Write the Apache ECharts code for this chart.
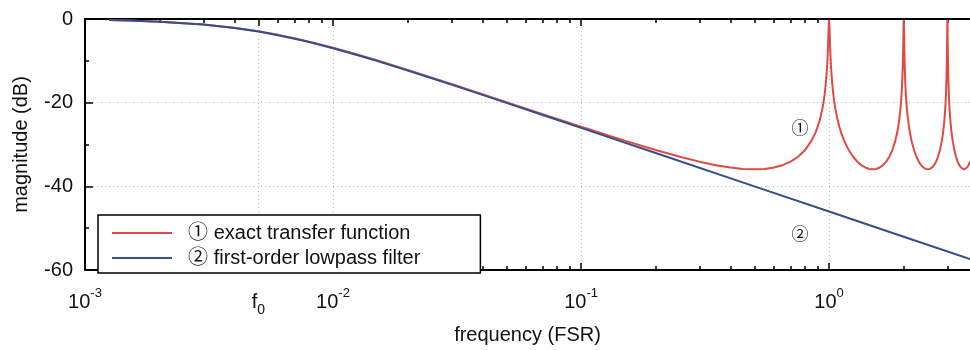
<!DOCTYPE html>
<html>
<head>
<meta charset="utf-8">
<script src="https://cdn.jsdelivr.net/npm/echarts@6/dist/echarts.min.js"></script>
<style>
  html, body { margin: 0; padding: 0; background: #fff; }
  #chart { width: 970px; height: 350px; }
</style>
</head>
<body>
<div id="chart"></div>
<script>
// frequency in FSR, magnitude in dB
const blueFreq = [0.00125, 0.0015, 0.002, 0.003, 0.004, 0.005, 0.006, 0.007, 0.008, 0.01, 0.012, 0.015,
  0.02, 0.03, 0.04, 0.05, 0.07, 0.1, 0.2, 0.5, 1, 2, 3.7];
const blueDb = [-0.26, -0.37, -0.65, -1.34, -2.15, -3.01, -3.87, -4.71, -5.51, -6.99, -8.30, -10.0,
  -12.30, -15.68, -18.13, -20.04, -22.94, -26.03, -32.04, -40.0, -46.02, -52.04, -57.39];

const redFreq = [0.00125, 0.0015, 0.002, 0.003, 0.004, 0.005, 0.006, 0.007, 0.008, 0.01, 0.012, 0.015,
  0.02, 0.03, 0.04, 0.05, 0.07, 0.1, 0.15, 0.2, 0.25, 0.3, 0.35, 0.4, 0.45, 0.5,
  0.55, 0.6, 0.65, 0.7, 0.75, 0.8, 0.85, 0.88, 0.9, 0.92, 0.94, 0.95, 0.96, 0.97, 0.98, 0.985, 0.99, 0.993, 0.995, 0.997, 0.999,
  1.0, 1.001, 1.003, 1.005, 1.007, 1.01, 1.015, 1.02, 1.03, 1.04, 1.05, 1.06, 1.08, 1.1, 1.12, 1.15, 1.2, 1.25, 1.3, 1.35, 1.4, 1.45, 1.5,
  1.55, 1.6, 1.65, 1.7, 1.75, 1.8, 1.85, 1.88, 1.9, 1.92, 1.94, 1.95, 1.96, 1.97, 1.98, 1.985, 1.99, 1.993, 1.995, 1.997, 1.999,
  2.0, 2.001, 2.003, 2.005, 2.007, 2.01, 2.015, 2.02, 2.03, 2.04, 2.05, 2.06, 2.08, 2.1, 2.12, 2.15, 2.2, 2.25, 2.3, 2.35, 2.4, 2.45, 2.5,
  2.55, 2.6, 2.65, 2.7, 2.75, 2.8, 2.85, 2.88, 2.9, 2.92, 2.94, 2.95, 2.96, 2.97, 2.98, 2.985, 2.99, 2.993, 2.995, 2.997, 2.999,
  3.0, 3.001, 3.003, 3.005, 3.007, 3.01, 3.015, 3.02, 3.03, 3.04, 3.05, 3.06, 3.08, 3.1, 3.12, 3.15, 3.2, 3.25, 3.3, 3.35, 3.4, 3.45, 3.5,
  3.55, 3.6, 3.65, 3.7];
const redDb = [-0.26, -0.36, -0.63, -1.30, -2.10, -2.94, -3.79, -4.62, -5.41, -6.88, -8.18, -9.87,
  -12.17, -15.53, -17.97, -19.87, -22.74, -25.75, -29.08, -31.33, -32.93, -34.10, -34.94, -35.50, -35.83, -35.94,
  -35.83, -35.50, -34.94, -34.10, -32.93, -31.33, -29.08, -27.27, -25.75, -23.87, -21.42, -19.87, -17.97, -15.53, -12.17, -9.87, -6.88, -4.62, -2.94, -1.30, -0.17,
  0, -0.17, -1.30, -2.94, -4.62, -6.88, -9.87, -12.17, -15.53, -17.97, -19.87, -21.42, -23.87, -25.75, -27.27, -29.08, -31.33, -32.93, -34.10, -34.94, -35.50, -35.83, -35.94,
  -35.83, -35.50, -34.94, -34.10, -32.93, -31.33, -29.08, -27.27, -25.75, -23.87, -21.42, -19.87, -17.97, -15.53, -12.17, -9.87, -6.88, -4.62, -2.94, -1.30, -0.17,
  0, -0.17, -1.30, -2.94, -4.62, -6.88, -9.87, -12.17, -15.53, -17.97, -19.87, -21.42, -23.87, -25.75, -27.27, -29.08, -31.33, -32.93, -34.10, -34.94, -35.50, -35.83, -35.94,
  -35.83, -35.50, -34.94, -34.10, -32.93, -31.33, -29.08, -27.27, -25.75, -23.87, -21.42, -19.87, -17.97, -15.53, -12.17, -9.87, -6.88, -4.62, -2.94, -1.30, -0.17,
  0, -0.17, -1.30, -2.94, -4.62, -6.88, -9.87, -12.17, -15.53, -17.97, -19.87, -21.42, -23.87, -25.75, -27.27, -29.08, -31.33, -32.93, -34.10, -34.94, -35.50, -35.83, -35.94,
  -35.83, -35.50, -34.94, -34.10];

const majorTicks = [0.001, 0.005, 0.01, 0.1, 1];
const minorTicks = [0.002, 0.003, 0.004, 0.006, 0.007, 0.008, 0.009,
  0.02, 0.03, 0.04, 0.05, 0.06, 0.07, 0.08, 0.09,
  0.2, 0.3, 0.4, 0.5, 0.6, 0.7, 0.8, 0.9, 2, 3];
const F0 = 0.005;

const seriesNames = ['\u2460 exact transfer function', '\u2461 first-order lowpass filter'];
const curveTags = ['\u2460', '\u2461'];
const tagPos = [[0.764, -24.8], [0.764, -50.1]];

const FONT = '"Liberation Sans", Arial, "Noto Sans CJK JP", sans-serif';
const RED = '#e04a42';
const BLUE = '#34508c';
const X_MIN = 0.001, X_MAX = 3.7;

function zip(xs, ys) { return xs.map((x, i) => [x, ys[i]]); }

function tickLabel(v) {
  if (Math.abs(v - F0) < 1e-7) return '{b|f}{sub|0}';
  const e = Math.round(Math.log10(v));
  return '{b|10}{sup|' + e + '}';
}

// ticks only show when the axis line is on, so minor axes get a transparent one
function logAxis(position, ticks, major) {
  return {
    type: 'log', logBase: 10, min: X_MIN, max: X_MAX, position,
    axisLine: { show: true, onZero: false, lineStyle: { color: major ? '#000' : 'rgba(0,0,0,0)', width: 2 } },
    axisTick: { show: true, inside: true, length: major ? 7 : 4, customValues: ticks,
      lineStyle: { color: '#000', width: 1.5 } },
    axisLabel: { show: false },
    splitLine: { show: false },
    minorTick: { show: false }
  };
}

const chart = echarts.init(document.getElementById('chart'));

const bottomMajor = logAxis('bottom', majorTicks, true);
bottomMajor.axisLabel = {
  show: true, customValues: majorTicks, formatter: tickLabel, margin: 17,
  color: '#111', fontFamily: FONT,
  rich: {
    b: { fontSize: 20, fontFamily: FONT, color: '#111', lineHeight: 30 },
    sup: { fontSize: 13, fontFamily: FONT, color: '#111', lineHeight: 14, verticalAlign: 'top' },
    sub: { fontSize: 14, fontFamily: FONT, color: '#111', lineHeight: 12, verticalAlign: 'bottom' }
  }
};
bottomMajor.splitLine = { show: true, lineStyle: { color: '#bbb', type: [1, 3], width: 1 } };
bottomMajor.name = 'frequency (FSR)';
bottomMajor.nameLocation = 'middle';
bottomMajor.nameGap = 55;
bottomMajor.nameTextStyle = { fontSize: 20, fontFamily: FONT, color: '#111' };

chart.setOption({
  animation: false,
  grid: { left: 85, right: 0, top: 19, bottom: 70 },
  legend: {
    orient: 'vertical', left: 98, top: 215,
    data: seriesNames,
    itemWidth: 60, itemHeight: 14, itemGap: 5,
    padding: [8, 60, 5, 13],
    borderColor: '#000', borderWidth: 1.5, backgroundColor: '#fff',
    itemStyle: { opacity: 0 },
    formatter: name => '  ' + name,
    textStyle: { fontSize: 20, fontFamily: FONT, color: '#111' }
  },
  xAxis: [
    bottomMajor,
    logAxis('bottom', minorTicks, false),
    logAxis('top', majorTicks, true),
    logAxis('top', minorTicks, false)
  ],
  yAxis: {
    type: 'value', min: -60, max: 0, interval: 20,
    name: 'magnitude (dB)', nameLocation: 'middle', nameGap: 54,
    nameTextStyle: { fontSize: 20, fontFamily: FONT, color: '#111' },
    axisLine: { show: true, lineStyle: { color: '#000', width: 2 } },
    axisTick: { show: true, inside: true, length: 8, lineStyle: { color: '#000', width: 1.5 } },
    minorTick: { show: true, splitNumber: 2, length: 4, lineStyle: { color: '#000', width: 1.5 } },
    axisLabel: { fontSize: 20, fontFamily: FONT, color: '#111', margin: 12 },
    splitLine: { show: true, lineStyle: { color: '#bbb', type: [1, 3], width: 1 } }
  },
  series: [
    {
      name: seriesNames[0], type: 'line', symbol: 'none', xAxisIndex: 0,
      data: zip(redFreq, redDb),
      lineStyle: { color: RED, width: 2 }, itemStyle: { color: RED },
      markPoint: {
        symbol: 'circle', symbolSize: 0,
        label: { show: true, position: 'inside', offset: [0, 7], fontSize: 17, fontFamily: FONT, color: '#111', formatter: p => p.name },
        data: [{ name: curveTags[0], coord: tagPos[0] }, { name: curveTags[1], coord: tagPos[1] }]
      }
    },
    {
      name: seriesNames[1], type: 'line', symbol: 'none', xAxisIndex: 0,
      data: zip(blueFreq, blueDb),
      lineStyle: { color: BLUE, width: 2 }, itemStyle: { color: BLUE }
    }
  ]
});
</script>
</body>
</html>
